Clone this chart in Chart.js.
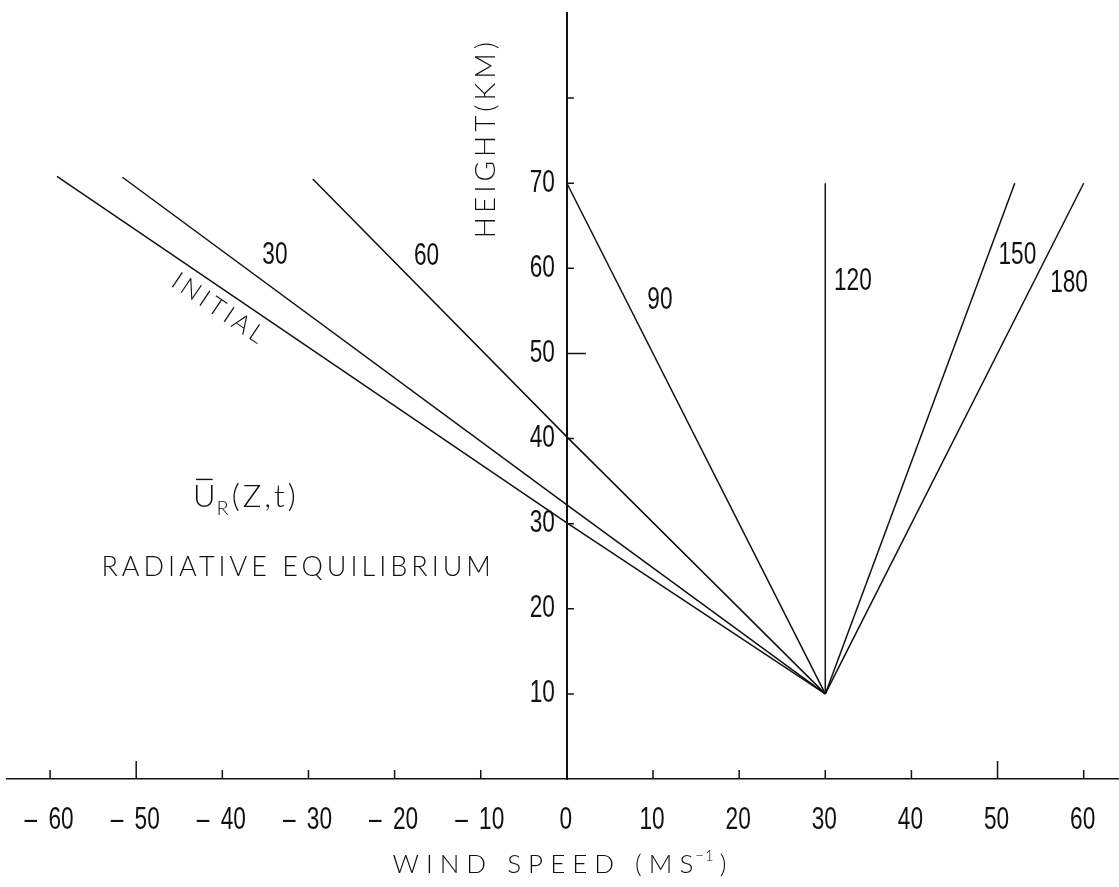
<!DOCTYPE html>
<html>
<head>
<meta charset="utf-8">
<script src="https://cdn.jsdelivr.net/npm/chart.js@4.4.0/dist/chart.umd.min.js"></script>
<style>
html, body { margin: 0; padding: 0; background: #fff; }
</style>
</head>
<body>
<canvas id="chart" width="1119" height="887"></canvas>
<script>
// axis ticks
var xTicks = [-60, -50, -40, -30, -20, -10, 0, 10, 20, 30, 40, 50, 60];
var xTickLabels = ['\u2013\u200260', '\u2013\u200250', '\u2013\u200240', '\u2013\u200230', '\u2013\u200220', '\u2013\u200210', '0', '10', '20', '30', '40', '50', '60'];
var yTicks = [10, 20, 30, 40, 50, 60, 70, 80];
var yTickLabels = ['10', '20', '30', '40', '50', '60', '70', ''];

// wind profiles (wind speed m/s, height km)
var initialU = [-59.2, 0, 30];
var initialZ = [70.8, 30.1, 10];
var day30U = [-51.6, 0, 30];
var day30Z = [70.7, 32.2, 10];
var day60U = [-29.5, 0, 30];
var day60Z = [70.5, 40.2, 10];
var day90U = [0, 30];
var day90Z = [70, 10];
var day120U = [30, 30];
var day120Z = [70, 10];
var day150U = [30, 52];
var day150Z = [10, 70];
var day180U = [30, 60];
var day180Z = [10, 70];

// curve labels and where they sit (data coords)
var curveLabels = ['30', '60', '90', '120', '150', '180'];
var curveLabelU = [-33.9, -16.3, 10.8, 33.2, 52.3, 58.3];
var curveLabelZ = [61.5, 61.4, 56.2, 58.4, 61.5, 58.2];

var numFont = "31px 'Liberation Sans', Arial, sans-serif";
var textFont = "Lato, 'Open Sans', sans-serif";

function toPoints(us, zs) {
    return us.map(function(u, i) { return {x: u, y: zs[i]}; });
}

// the figure's numbers are a condensed face, squeeze a normal one
function narrowText(ctx, text, x, y, align) {
    ctx.save();
    ctx.translate(x, y);
    ctx.scale(0.73, 1);
    ctx.font = numFont;
    ctx.textAlign = align;
    ctx.textBaseline = 'middle';
    ctx.fillText(text, 0, 0);
    ctx.restore();
}

var profiles = [
    ['INITIAL', initialU, initialZ],
    ['30', day30U, day30Z],
    ['60', day60U, day60Z],
    ['90', day90U, day90Z],
    ['120', day120U, day120Z],
    ['150', day150U, day150Z],
    ['180', day180U, day180Z]
];

// tick marks, tick labels and all the free text on the figure
var decorations = {
    id: 'decorations',
    afterDatasetsDraw: function(chart) {
        var ctx = chart.ctx;
        var xs = chart.scales.x, ys = chart.scales.y;
        var x0 = xs.getPixelForValue(0);
        var yBase = ys.getPixelForValue(0);

        ctx.save();
        ctx.strokeStyle = '#111';
        ctx.fillStyle = '#111';
        ctx.lineWidth = 1.5;
        ctx.beginPath();
        xTicks.forEach(function(v) {
            var px = xs.getPixelForValue(v);
            var len = Math.abs(v) === 50 ? 18 : 9;
            ctx.moveTo(px, yBase);
            ctx.lineTo(px, yBase - len);
        });
        yTicks.forEach(function(v) {
            var py = ys.getPixelForValue(v);
            var len = v === 50 ? 19 : 7;
            ctx.moveTo(x0, py);
            ctx.lineTo(x0 + len, py);
        });
        ctx.stroke();

        // tick labels
        xTicks.forEach(function(v, i) {
            narrowText(ctx, xTickLabels[i], xs.getPixelForValue(v) - 1, yBase + 41, 'center');
        });
        yTicks.forEach(function(v, i) {
            if (yTickLabels[i]) narrowText(ctx, yTickLabels[i], x0 - 12, ys.getPixelForValue(v), 'right');
        });

        // numbers on the curves
        curveLabels.forEach(function(t, i) {
            narrowText(ctx, t, xs.getPixelForValue(curveLabelU[i]), ys.getPixelForValue(curveLabelZ[i]), 'center');
        });

        ctx.textAlign = 'center';
        ctx.textBaseline = 'middle';

        // INITIAL, along its line
        ctx.save();
        ctx.translate(xs.getPixelForValue(-40.3), ys.getPixelForValue(55.2));
        ctx.rotate(34 * Math.PI / 180);
        ctx.font = '300 25px ' + textFont;
        ctx.letterSpacing = '4px';
        ctx.fillText('INITIAL', 0, 0);
        ctx.restore();

        // HEIGHT(KM)
        ctx.save();
        ctx.translate(xs.getPixelForValue(-9.4), ys.getPixelForValue(75.3));
        ctx.rotate(-Math.PI / 2);
        ctx.font = '300 28px ' + textFont;
        ctx.letterSpacing = '4px';
        ctx.fillText('HEIGHT(KM)', 0, 0);
        ctx.restore();

        // RADIATIVE EQUILIBRIUM
        ctx.save();
        ctx.font = '300 27px ' + textFont;
        ctx.letterSpacing = '4px';
        ctx.fillText('RADIATIVE EQUILIBRIUM', xs.getPixelForValue(-31.2), ys.getPixelForValue(24.9));
        ctx.restore();

        // U bar sub R (Z,t)
        ctx.save();
        ctx.textAlign = 'left';
        ctx.textBaseline = 'alphabetic';
        var sx = xs.getPixelForValue(-43.4), sy = ys.getPixelForValue(33.2) + 11;
        ctx.font = '300 31px ' + textFont;
        var uw = ctx.measureText('U').width;
        ctx.fillText('U', sx, sy);
        ctx.lineWidth = 1.4;
        ctx.beginPath();
        ctx.moveTo(sx + 3, sy - 28);
        ctx.lineTo(sx + uw - 3, sy - 28);
        ctx.stroke();
        ctx.font = '300 20px ' + textFont;
        ctx.fillText('R', sx + uw + 1, sy + 8);
        var rw = ctx.measureText('R').width;
        ctx.font = '300 31px ' + textFont;
        ctx.letterSpacing = '3px';
        ctx.fillText('(Z,t)', sx + uw + rw + 4, sy);
        ctx.restore();

        // x axis title with superscript
        ctx.save();
        ctx.textAlign = 'left';
        ctx.textBaseline = 'alphabetic';
        ctx.letterSpacing = '7px';
        ctx.font = '300 26px ' + textFont;
        var main = 'WIND SPEED (MS';
        var mw = ctx.measureText(main).width;
        ctx.font = '300 15px ' + textFont;
        ctx.letterSpacing = '1px';
        var supw = ctx.measureText('\u22121').width;
        ctx.font = '300 26px ' + textFont;
        var cw = ctx.measureText(')').width;
        var tx = xs.getPixelForValue(-0.8) - (mw + supw + cw) / 2;
        var ty = 873;
        ctx.letterSpacing = '7px';
        ctx.fillText(main, tx, ty);
        ctx.font = '300 15px ' + textFont;
        ctx.letterSpacing = '1px';
        ctx.fillText('\u22121', tx + mw - 5, ty - 12);
        ctx.font = '300 26px ' + textFont;
        ctx.letterSpacing = '7px';
        ctx.fillText(')', tx + mw + supw, ty);
        ctx.restore();

        ctx.restore();
    }
};

var ctx = document.getElementById('chart').getContext('2d');
var chart = new Chart(ctx, {
    type: 'line',
    data: {
        datasets: profiles.map(function(p) {
            return {
                label: p[0],
                data: toPoints(p[1], p[2]),
                borderColor: '#111',
                borderWidth: 1.5,
                pointRadius: 0,
                tension: 0,
                fill: false
            };
        })
    },
    options: {
        responsive: false,
        animation: false,
        devicePixelRatio: 1,
        layout: { padding: { top: 13, left: 7, right: 0, bottom: 0 } },
        plugins: {
            legend: { display: false },
            tooltip: { enabled: false }
        },
        scales: {
            x: {
                type: 'linear',
                position: 'bottom',
                min: -65,
                max: 64.1,
                afterBuildTicks: function(s) { s.ticks = xTicks.map(function(v) { return {value: v}; }); },
                afterFit: function(s) { s.height = 108; },
                grid: { drawOnChartArea: false, drawTicks: false },
                border: { color: '#111', width: 1.5 },
                ticks: { display: false }
            },
            y: {
                type: 'linear',
                position: { x: 0 },
                min: 0,
                max: 90,
                afterBuildTicks: function(s) { s.ticks = yTicks.map(function(v) { return {value: v}; }); },
                afterFit: function(s) { s.width = 0; },
                grid: { drawOnChartArea: false, drawTicks: false },
                border: { color: '#111', width: 2 },
                ticks: { display: false }
            }
        }
    },
    plugins: [decorations]
});
</script>
</body>
</html>
